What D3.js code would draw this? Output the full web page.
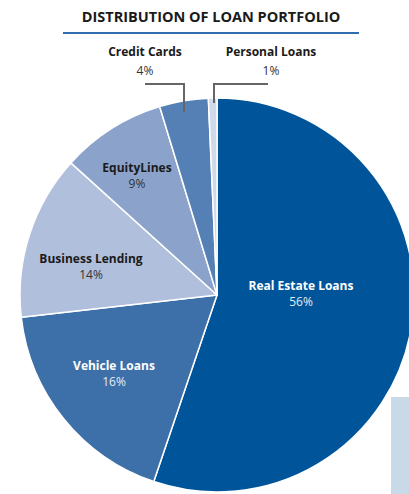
<!DOCTYPE html>
<html>
<head>
<meta charset="utf-8">
<script src="https://cdn.jsdelivr.net/npm/d3@7"></script>
<style>
  body { margin: 0; background: #fff; }
  svg { display: block; font-family: "Open Sans", sans-serif; }
</style>
</head>
<body>
<svg id="chart" width="409" height="494"></svg>
<script>
var categories = ["Real Estate Loans", "Vehicle Loans", "Business Lending", "EquityLines", "Credit Cards", "Personal Loans"];
// slice sizes as drawn in the picture (printed labels are rounded)
var shares = [55.2, 18.0, 13.5, 8.6, 4.0, 0.7];
var shareLabels = ["56%", "16%", "14%", "9%", "4%", "1%"];
var colors = ["#00559a", "#3d6fa8", "#b0bfdc", "#8ba3cb", "#5580b5", "#d0d9ea"];

var svg = d3.select("#chart"),
    width = +svg.attr("width"),
    height = +svg.attr("height");

var cx = 217, cy = 295, r = 197;

// title + rule
svg.append("text")
  .attr("x", 211).attr("y", 22)
  .attr("text-anchor", "middle")
  .attr("font-size", 14.5).attr("font-weight", "bold")
  .attr("fill", "#1a1a1a")
  .text("DISTRIBUTION OF LOAN PORTFOLIO");

svg.append("line")
  .attr("x1", 63).attr("x2", 359)
  .attr("y1", 33).attr("y2", 33)
  .attr("stroke", "#2f6dae").attr("stroke-width", 2);

// light panel behind the pie
svg.append("rect")
  .attr("x", 391).attr("y", 397)
  .attr("width", 18).attr("height", 97)
  .attr("fill", "#c9d9e8");

var pie = d3.pie().sort(null).value(function(d){ return d; });
var arc = d3.arc().innerRadius(0).outerRadius(r);
var arcs = pie(shares);

var g = svg.append("g").attr("transform", "translate(" + cx + "," + cy + ")");

g.selectAll("path").data(arcs)
  .enter()
  .append("path")
  .attr("d", arc)
  .attr("fill", function(d, i){ return colors[i]; })
  .attr("stroke", "#fff")
  .attr("stroke-width", 1.5)
  .attr("stroke-linejoin", "round");

// label positions for the in-slice labels
var inside = [
  { i: 0, x: 301, y: 290, c: "#fff", pc: "#e6edf5" },
  { i: 1, x: 114, y: 370, c: "#fff", pc: "#e6edf5" },
  { i: 2, x: 91, y: 263, c: "#1a1a1a", pc: "#333" },
  { i: 3, x: 137, y: 172, c: "#1a1a1a", pc: "#333" }
];

inside.forEach(function(l){
  svg.append("text")
    .attr("x", l.x).attr("y", l.y)
    .attr("text-anchor", "middle")
    .attr("font-size", 12).attr("font-weight", "bold")
    .attr("fill", l.c)
    .text(categories[l.i]);
  svg.append("text")
    .attr("x", l.x).attr("y", l.y + 16)
    .attr("text-anchor", "middle")
    .attr("font-size", 12)
    .attr("fill", l.pc)
    .text(shareLabels[l.i]);
});

// outside labels with leader lines
var outside = [
  { i: 4, tx: 145, line: [[145, 84], [184, 84], [184, 112]] },
  { i: 5, tx: 271, line: [[268, 84], [214, 84], [214, 103]] }
];

outside.forEach(function(l){
  svg.append("text")
    .attr("x", l.tx).attr("y", 56)
    .attr("text-anchor", "middle")
    .attr("font-size", 12).attr("font-weight", "bold")
    .attr("fill", "#1a1a1a")
    .text(categories[l.i]);
  svg.append("text")
    .attr("x", l.tx).attr("y", 75)
    .attr("text-anchor", "middle")
    .attr("font-size", 12)
    .attr("fill", "#333")
    .text(shareLabels[l.i]);
  svg.append("path")
    .attr("d", d3.line()(l.line))
    .attr("fill", "none")
    .attr("stroke", "#666")
    .attr("stroke-width", 2);
});
</script>
</body>
</html>
